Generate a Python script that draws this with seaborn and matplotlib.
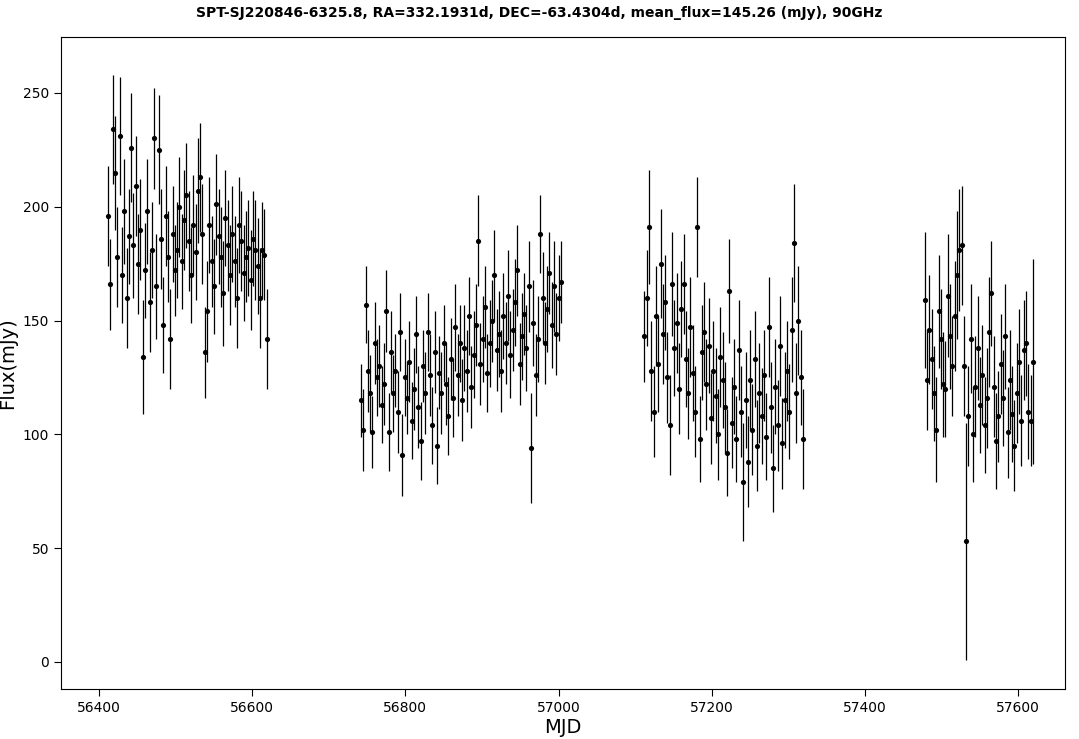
import matplotlib
matplotlib.use("Agg")
import matplotlib.pyplot as plt
import seaborn as sns
import numpy as np
import pandas as pd

# Season 1
mjd1 = [56412,56415,56418,56421,56424,56427,56430,56433,56436,56439,56442,56445,56448,56451,56454,56457,56460,56463,56466,56469,56472,56475,56478,56481,56484,56487,56490,56493,56496,56499,56502,56505,56508,56511,56514,56517,56520,56523,56526,56529,56532,56535,56538,56541,56544,56547,56550,56553,56556,56559,56562,56565,56568,56571,56574,56577,56580,56583,56586,56589,56592,56595,56598,56601,56604,56607,56610,56613,56616,56619]
flux1 = [196,166,234,215,178,231,170,198,160,187,226,183,209,175,190,134,172,198,158,181,230,165,225,186,148,196,178,142,188,172,181,200,176,194,205,185,170,192,180,207,213,188,136,154,192,176,165,201,187,178,162,195,183,170,188,176,160,192,185,171,178,182,168,186,181,174,160,181,179,142]
err1 = [22,20,24,25,22,26,21,23,22,21,24,23,22,22,22,25,21,23,22,21,22,23,24,22,21,22,20,22,21,20,21,22,21,22,23,22,21,22,21,23,24,22,20,22,21,20,21,22,21,22,23,21,20,22,21,20,22,21,22,21,20,21,22,21,22,21,22,21,20,22]

# Season 2
mjd2 = [56742,56745,56748,56751,56754,56757,56760,56763,56766,56769,56772,56775,56778,56781,56784,56787,56790,56793,56796,56799,56802,56805,56808,56811,56814,56817,56820,56823,56826,56829,56832,56835,56838,56841,56844,56847,56850,56853,56856,56859,56862,56865,56868,56871,56874,56877,56880,56883,56886,56889,56892,56895,56898,56901,56904,56907,56910,56913,56916,56919,56922,56925,56928,56931,56934,56937,56940,56943,56946,56949,56952,56955,56958,56961,56964,56967,56970,56973,56976,56979,56982,56985,56988,56991,56994,56997,57000,57003]
flux2 = [115,102,157,128,118,101,140,125,130,113,122,154,101,136,118,128,110,145,91,125,116,132,106,120,144,112,97,130,118,145,126,104,136,95,127,118,140,122,108,133,116,147,126,140,115,138,128,152,121,135,148,185,131,142,156,127,140,150,170,137,144,128,152,140,161,135,146,158,172,131,143,153,138,165,94,149,126,142,188,160,140,155,171,148,165,144,160,167]
err2 = [16,18,17,18,17,16,18,17,18,17,18,18,17,18,17,16,18,17,18,17,16,18,17,18,17,18,17,16,18,17,18,17,18,17,16,18,17,18,17,18,17,19,18,17,18,19,18,17,18,19,18,20,18,19,18,17,19,18,20,18,19,18,19,18,20,19,18,19,20,18,19,18,19,20,24,19,18,19,17,20,18,19,18,19,20,18,19,18]

# Season 3
mjd3 = [57112,57115,57118,57121,57124,57127,57130,57133,57136,57139,57142,57145,57148,57151,57154,57157,57160,57163,57166,57169,57172,57175,57178,57181,57184,57187,57190,57193,57196,57199,57202,57205,57208,57211,57214,57217,57220,57223,57226,57229,57232,57235,57238,57241,57244,57247,57250,57253,57256,57259,57262,57265,57268,57271,57274,57277,57280,57283,57286,57289,57292,57295,57298,57301,57304,57307,57310,57313,57316,57319]
flux3 = [143,160,191,128,110,152,131,175,144,158,125,104,166,138,149,120,155,166,133,118,147,127,110,191,98,136,145,122,139,107,128,117,100,134,124,112,92,163,105,121,98,137,110,79,115,88,124,102,133,95,118,108,126,99,147,112,85,121,104,139,96,115,128,110,146,184,118,150,125,98]
err3 = [20,21,25,22,20,22,21,24,22,21,20,22,23,21,22,20,21,22,21,20,22,21,20,22,19,21,22,20,21,20,22,21,20,22,21,20,19,23,20,21,19,22,20,26,21,20,22,20,21,20,22,21,20,19,22,20,19,21,20,22,20,21,22,21,23,26,22,24,21,22]

# Season 4
mjd4 = [57478,57481,57484,57487,57490,57493,57496,57499,57502,57505,57508,57511,57514,57517,57520,57523,57526,57529,57532,57535,57538,57541,57544,57547,57550,57553,57556,57559,57562,57565,57568,57571,57574,57577,57580,57583,57586,57589,57592,57595,57598,57601,57604,57607,57610,57613,57616,57619]
flux4 = [159,124,146,133,118,102,154,142,122,120,161,143,130,152,170,181,183,130,53,108,142,100,121,138,113,126,104,116,145,162,121,97,108,131,116,143,101,124,109,95,118,132,106,137,140,110,106,132]
err4 = [30,22,24,22,21,23,25,22,23,21,27,23,22,24,28,27,26,22,52,22,24,21,22,23,21,22,21,22,24,23,22,21,20,22,21,23,20,22,21,20,22,23,20,22,23,21,20,45]

mjd = mjd1 + mjd2 + mjd3 + mjd4
flux = flux1 + flux2 + flux3 + flux4
err = err1 + err2 + err3 + err4
df = pd.DataFrame({"MJD": mjd, "Flux": flux, "err": err})

fig = plt.figure(figsize=(10.79, 7.39), dpi=100)
ax = fig.add_axes([61/1079, 50/739, 1004/1079, 652/739])
ax.errorbar(df["MJD"], df["Flux"], yerr=df["err"], fmt="none", ecolor="black", elinewidth=0.9)
sns.scatterplot(data=df, x="MJD", y="Flux", ax=ax, color="black", s=14, edgecolor="black", linewidth=0, zorder=3)
ax.set_xlim(56350.4, 57661)
ax.set_ylim(-11.9, 274.6)
ax.set_xticks([56400, 56600, 56800, 57000, 57200, 57400, 57600])
ax.set_yticks([0, 50, 100, 150, 200, 250])
ax.tick_params(direction="out", length=5, labelsize=10)
ax.set_xlabel("MJD", fontsize=14, labelpad=2)
ax.set_ylabel("Flux(mJy)", fontsize=14)
for s in ax.spines.values():
    s.set_color("black"); s.set_linewidth(0.8)
fig.suptitle("SPT-SJ220846-6325.8, RA=332.1931d, DEC=-63.4304d, mean_flux=145.26 (mJy), 90GHz",
             fontsize=10, fontweight="bold", y=0.992)
fig.savefig("out.png", dpi=100)
